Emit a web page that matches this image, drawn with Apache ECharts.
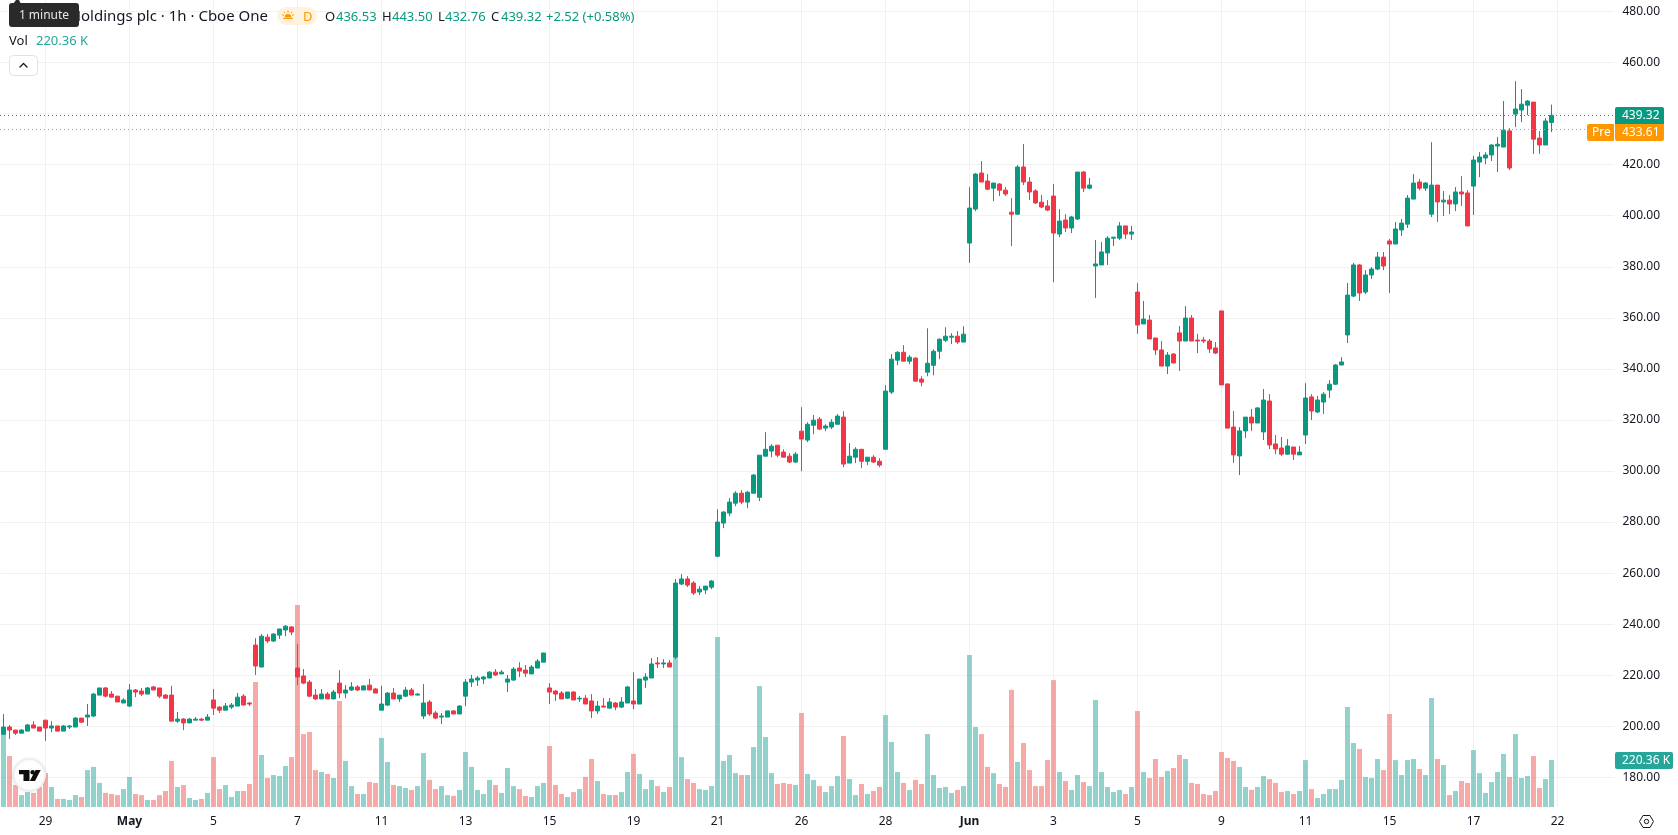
<!DOCTYPE html>
<html>
<head>
<meta charset="utf-8">
<style>html,body{margin:0;padding:0;background:#fff}#chart{width:1678px;height:835px}</style>
<script src="https://cdn.jsdelivr.net/npm/echarts@6/dist/echarts.min.js"></script>
</head>
<body>
<div id="chart"></div>
<script>
// Hourly bars, oldest first
const opens = [
196.9,199.7,198.5,197.3,198.1,200.5,199.7,202.4,199.3,200.1,
198.1,199.7,199.7,203.2,203.6,204.0,212.2,215.0,212.6,211.8,
209.1,207.9,214.2,213.8,212.6,215.4,215.0,212.2,212.2,202.0,
202.8,201.3,202.4,202.8,202.4,210.3,207.5,206.3,207.5,207.9,
211.8,209.1,231.8,223.2,234.9,233.4,235.7,237.7,238.9,222.8,
219.7,217.3,212.2,210.7,212.6,210.7,216.9,213.0,214.2,215.4,
214.2,216.1,214.6,206.3,208.3,213.0,210.7,211.8,214.2,212.2,
204.0,209.5,205.2,203.6,203.6,206.0,204.8,211.8,217.3,218.1,
218.5,218.9,221.2,220.5,217.3,218.1,222.8,222.0,220.5,222.8,
225.1,215.0,213.8,213.0,211.0,213.4,210.7,211.0,209.9,206.0,
207.9,207.1,209.1,207.5,209.1,209.9,208.7,218.1,218.9,224.8,
224.4,224.8,227.1,255.7,257.7,256.1,252.6,253.4,254.5,266.6,
279.6,283.5,287.4,291.3,287.8,291.3,289.7,305.8,307.8,310.1,
307.4,305.8,303.5,315.6,312.1,317.9,320.3,316.8,317.2,318.3,
321.1,303.1,305.4,308.5,303.8,305.4,303.8,308.5,330.9,343.4,
346.5,343.0,344.2,336.0,338.7,341.4,346.9,351.2,352.4,352.8,
350.5,389.3,402.6,416.7,413.6,410.8,412.4,410.0,401.4,400.6,
419.1,413.2,409.7,405.3,403.8,407.7,392.8,398.3,395.2,398.7,
417.1,410.8,380.3,380.7,385.4,391.2,391.2,396.0,392.8,370.1,
357.6,359.1,352.1,347.4,341.1,345.8,354.1,350.9,359.9,351.3,
351.3,350.9,348.2,362.7,334.1,317.2,305.9,315.7,321.1,318.8,
315.3,327.4,310.6,309.0,306.6,309.4,306.3,314.1,329.0,323.1,
327.0,331.7,334.0,341.5,353.3,368.5,380.7,370.1,376.8,379.1,
383.8,390.1,388.9,394.4,396.7,406.5,413.2,410.8,400.6,412.0,
405.4,406.1,404.6,409.3,408.9,411.6,421.0,422.6,423.8,427.3,
426.9,433.2,439.8,441.4,443.3,444.5,430.4,427.7,436.53];

const closes = [
199.7,198.5,197.3,198.5,200.5,199.3,198.1,199.3,200.1,198.1,
200.1,200.1,203.2,201.6,204.4,212.6,215.0,211.8,211.4,209.5,
210.3,214.2,213.4,212.6,215.0,214.2,211.8,211.0,202.0,202.8,
201.3,202.8,202.8,202.4,203.6,207.1,206.3,207.9,208.3,211.4,
208.3,208.7,223.6,235.3,233.4,236.1,238.1,239.2,236.9,219.3,
216.9,211.8,210.7,212.6,210.7,213.4,213.0,214.2,215.4,214.2,
215.8,214.2,213.0,208.7,213.0,210.7,212.2,214.2,212.2,212.6,
209.1,204.8,203.2,204.0,206.0,204.8,207.9,217.3,218.5,218.9,
219.3,221.2,220.1,221.2,218.5,222.4,221.6,220.8,223.2,225.5,
228.7,213.4,212.6,210.7,213.4,210.3,211.0,208.7,206.0,207.9,
207.5,209.5,207.5,209.5,215.4,208.7,218.5,219.3,224.4,224.4,
224.8,223.2,256.1,257.7,255.3,252.2,253.7,254.9,256.9,280.0,
283.9,287.8,291.3,287.8,291.7,298.4,306.2,308.5,309.7,306.2,
305.4,303.5,306.6,312.5,318.3,319.9,316.4,317.6,319.1,321.5,
302.7,305.8,308.5,303.8,305.4,303.5,302.3,331.3,343.8,346.5,
343.0,344.6,335.2,334.8,342.2,346.9,351.6,352.8,352.8,350.5,
353.6,403.0,416.3,413.2,410.4,412.8,410.0,408.5,400.6,419.1,
413.2,409.3,405.0,403.4,402.2,393.2,397.9,395.2,399.5,417.1,
410.8,412.0,381.1,385.8,391.2,391.6,396.0,392.8,393.6,357.2,
359.5,351.7,347.4,341.1,345.4,342.3,350.9,359.9,350.9,350.9,
350.9,347.8,346.2,333.7,316.8,306.3,315.7,321.1,318.8,324.7,
327.8,310.2,308.6,306.6,309.8,306.6,307.4,328.6,323.5,327.8,
330.1,334.0,341.5,342.7,368.9,380.7,369.7,376.8,379.1,383.8,
380.3,388.9,394.8,397.1,406.9,412.8,410.8,412.8,412.0,405.4,
406.1,404.6,409.3,408.5,396.0,421.8,423.0,423.8,427.7,428.0,
433.5,418.7,441.8,443.7,444.9,430.0,427.7,437.1,439.32];

const highs = [
204.8,200.5,198.5,198.9,200.9,202.0,199.7,202.4,202.0,200.1,
200.5,200.5,203.6,203.2,208.7,213.0,215.0,215.4,213.8,211.8,
211.0,216.5,214.6,215.0,215.4,215.8,215.0,212.6,215.8,205.6,
203.2,203.2,203.6,203.2,204.8,214.6,207.9,209.1,209.1,213.0,
212.6,209.5,234.5,236.1,236.1,236.5,238.1,239.6,239.2,232.2,
222.4,218.1,214.6,214.6,213.4,214.2,222.0,216.1,217.3,216.1,
216.1,218.5,215.0,215.8,213.4,215.0,212.2,215.4,215.0,213.0,
216.5,210.3,206.0,205.2,206.0,206.3,208.3,218.5,220.1,219.7,
219.7,221.6,222.4,222.0,220.1,223.2,225.1,224.0,224.0,226.3,
228.7,216.9,214.2,213.8,213.4,213.8,211.8,212.2,212.6,209.9,
211.0,211.0,209.5,211.4,215.8,221.2,218.5,220.8,226.7,227.1,
226.3,225.9,257.7,259.6,258.8,256.9,254.9,254.9,257.3,285.0,
284.3,289.4,292.1,292.5,292.1,298.8,306.2,315.2,310.5,310.1,
308.5,307.0,307.4,325.0,319.1,321.9,321.1,318.3,320.3,322.3,
323.4,310.9,309.3,308.5,305.4,306.2,305.0,333.6,345.8,346.9,
349.3,345.4,344.6,337.1,355.9,347.7,352.0,356.3,354.0,354.8,
356.7,411.2,416.7,421.4,416.3,412.8,412.8,411.2,406.9,419.8,
428.1,415.1,410.4,408.1,406.1,412.4,402.6,400.6,399.9,417.1,
417.5,414.8,390.5,389.7,392.0,391.6,397.5,396.0,396.0,373.6,
366.6,361.1,352.1,350.9,346.6,346.2,356.8,364.6,361.1,353.7,
352.5,351.7,350.5,362.7,334.1,323.5,317.2,321.1,324.3,325.0,
332.1,330.1,314.1,313.3,312.5,309.4,309.8,334.4,330.1,329.4,
330.9,335.6,341.9,344.6,373.6,381.5,381.1,378.7,379.9,385.8,
385.8,390.9,397.5,398.7,408.1,416.3,414.4,413.2,428.8,412.0,
409.7,408.1,411.2,415.5,410.0,423.4,424.9,424.9,428.0,430.8,
444.9,434.3,452.7,449.6,445.3,444.5,433.2,438.3,443.5];

const lows = [
196.6,195.0,196.6,197.3,198.1,199.3,198.1,194.3,197.7,198.1,
198.1,198.9,199.7,201.3,200.1,203.6,212.2,211.4,211.4,209.5,
209.1,207.5,211.4,211.8,212.6,214.2,211.0,211.0,202.0,201.3,
198.5,201.3,202.4,202.0,202.4,204.4,205.2,206.3,206.7,207.9,
208.3,207.9,220.1,223.2,232.6,233.0,234.2,235.3,235.7,216.1,
216.5,211.4,210.3,210.7,210.7,210.7,211.0,211.0,213.8,213.8,
214.2,214.2,213.0,206.3,207.9,210.7,209.5,211.4,212.2,212.2,
202.8,204.0,202.8,200.9,203.6,204.8,204.8,207.9,215.4,215.8,
216.5,218.9,219.7,220.5,213.4,217.7,219.3,219.3,220.5,222.8,
225.1,208.7,209.9,210.7,210.7,210.3,209.5,208.7,203.2,204.8,
207.5,207.1,206.3,207.1,209.1,206.7,208.7,215.0,218.9,222.8,
222.8,223.2,226.3,255.3,254.5,251.4,251.4,251.8,253.7,266.2,
277.6,282.3,286.2,287.0,285.4,291.3,288.2,305.8,305.4,305.4,
305.4,303.1,303.1,299.9,311.3,314.4,316.0,315.6,316.4,318.3,
301.5,303.1,303.1,301.1,302.3,303.1,301.5,308.5,330.1,341.4,
343.0,341.8,335.2,333.2,337.1,337.5,343.8,350.5,349.7,349.7,
350.5,381.5,401.8,413.2,410.0,405.7,407.7,407.7,388.1,400.3,
412.0,406.1,404.6,403.0,401.8,374.0,391.6,393.6,393.2,398.3,
409.3,410.4,367.8,380.7,380.7,388.1,390.5,390.9,390.5,353.7,
357.6,351.7,345.4,341.1,338.0,342.3,339.2,350.9,350.9,346.2,
350.1,346.2,345.8,333.7,316.8,303.1,298.4,312.9,315.7,318.8,
312.1,308.6,306.6,305.9,306.3,304.3,306.3,310.6,320.0,322.7,
322.3,328.6,333.7,341.5,350.1,368.1,366.6,369.3,375.2,378.7,
378.7,369.7,388.9,392.0,395.2,406.5,410.0,409.7,399.5,397.5,
399.9,400.6,401.8,403.8,396.0,400.3,415.1,420.2,421.4,417.1,
426.9,417.9,434.7,436.7,439.4,424.2,424.2,427.7,432.76];

// Volume per bar, in thousands
const volumes = [
345,239,103,56,70,66,94,159,94,38,
38,33,56,47,173,188,113,66,61,56,
84,141,61,56,33,33,56,75,216,94,
103,42,33,38,66,234,84,103,47,75,
75,108,586,244,136,150,145,192,234,947,
342,352,173,164,155,136,497,216,98,61,
61,117,113,324,211,103,98,89,80,98,
253,127,84,98,56,52,80,258,188,80,
61,127,103,66,183,98,84,52,47,98,
113,286,103,61,47,70,84,141,225,122,
61,56,56,70,164,249,155,84,127,98,
70,94,703,234,131,113,84,80,98,797,
216,244,159,150,150,281,567,328,159,108,
113,108,103,441,155,127,98,70,98,145,
333,131,56,108,61,75,94,431,305,164,
113,80,127,108,342,150,89,94,66,80,
98,713,375,342,188,159,108,94,549,211,
300,173,98,98,220,595,164,122,80,150,
117,98,502,164,94,70,80,61,94,450,
164,136,225,141,169,183,244,225,113,108,
61,56,75,258,230,216,188,94,80,94,
145,131,113,70,75,61,75,220,84,42,
61,84,84,127,469,300,272,141,136,225,
173,436,220,150,220,225,178,150,511,225,
197,56,75,122,113,267,159,66,117,164,
249,141,342,136,145,239,89,131,220.36];

const tickLabels = ['29','May','5','7','11','13','15','19','21','26','28','Jun','3','5','9','11','15','17','22'];
const monthLabels = ['May','Jun'];
const firstTickBar = 7;
const barsPerTick = 14;
const slotCount = 269;
const prePrice = 433.61;

const UP = '#089981', DOWN = '#f23645', TEAL = '#26a69a', AMBER = '#ff9800', INK = '#131722', GRID = '#f0f1f3';
const FONT = '"Noto Sans"';

const slots = new Array(slotCount).fill('');
tickLabels.forEach((t, k) => { slots[firstTickBar + k * barsPerTick] = t; });
const hasLabel = (i, v) => v !== '';
const candles = opens.map((o, i) => [o, closes[i], lows[i], highs[i]]);
const last = opens.length - 1;

const chart = echarts.init(document.getElementById('chart'), null, {renderer: 'canvas'});
chart.setOption({
  animation: false,
  backgroundColor: '#ffffff',
  grid: [
    {left: 0.5, width: 1614, top: -39.56, height: 867.92, outerBoundsMode: 'none'},
    {left: 0.5, width: 1614, top: 0, height: 807, outerBoundsMode: 'none'}
  ],
  xAxis: [
    {type: 'category', gridIndex: 0, data: slots, show: false, splitLine: {show: false}},
    {type: 'category', gridIndex: 1, data: slots,
     axisLine: {show: false},
     axisTick: {show: false, alignWithLabel: true, interval: hasLabel},
     splitLine: {show: true, alignWithLabel: true, interval: hasLabel, lineStyle: {color: GRID, width: 1}},
     axisLabel: {interval: hasLabel, margin: 9, color: INK, fontFamily: FONT, fontSize: 12,
       formatter: v => monthLabels.includes(v) ? '{m|' + v + '}' : v,
       rich: {m: {fontWeight: 'bold', color: INK, fontFamily: FONT, fontSize: 12}}}}
  ],
  yAxis: [
    {type: 'value', gridIndex: 0, position: 'right', min: 160, max: 500, interval: 20,
     axisLine: {show: false}, axisTick: {show: false},
     splitLine: {show: true, showMinLine: false, lineStyle: {color: GRID, width: 1}},
     axisLabel: {showMinLabel: false, margin: 8, padding: [2, 0, 0, 0], color: INK, fontFamily: FONT, fontSize: 12, formatter: v => v.toFixed(2)}},
    {type: 'value', gridIndex: 1, min: 0, max: 3784, show: false, splitLine: {show: false}}
  ],
  series: [
    {type: 'bar', xAxisIndex: 1, yAxisIndex: 1, z: 1, barWidth: 5, data: volumes, silent: true,
     itemStyle: {color: p => closes[p.dataIndex] >= opens[p.dataIndex] ? 'rgba(38,166,154,0.5)' : 'rgba(239,83,80,0.5)'}},
    {type: 'candlestick', xAxisIndex: 0, yAxisIndex: 0, z: 3, barWidth: 4, data: candles, silent: true,
     itemStyle: {color: UP, color0: DOWN, borderColor: UP, borderColor0: DOWN, borderWidth: 1}}
  ]
});

// Overlay chrome: legend text, price lines and tags, icons
const text = (x, y, s, fill, size, extra) => ({type: 'text', x, y, z: 50, silent: true,
  style: Object.assign({text: s, fill, font: size + 'px ' + FONT, textVerticalAlign: 'middle'}, extra || {})});
const box = (x, y, w, h, fill, r, extra) => ({type: 'rect', z: 40, silent: true, shape: {x, y, width: w, height: h, r},
  style: Object.assign({fill}, extra || {})});
const line = (x1, y1, x2, y2, stroke, w) => ({type: 'line', z: 50, silent: true, shape: {x1, y1, x2, y2},
  style: {stroke, lineWidth: w || 1, lineCap: 'round'}});
const dotted = (y, x2, stroke) => ({type: 'line', z: 20, silent: true, shape: {x1: 0, y1: y, x2, y2: y},
  style: {stroke, lineWidth: 1, lineDash: [1, 3]}});

const yClose = chart.convertToPixel({yAxisIndex: 0}, closes[last]);
const yPre = chart.convertToPixel({yAxisIndex: 0}, prePrice);
const yVol = chart.convertToPixel({yAxisIndex: 1}, volumes[last]);
const closeTop = Math.round(yClose - 8.5);
const preTop = closeTop + 17;
const volTop = Math.round(yVol - 8.5);
const fmt = v => v.toFixed(2);

chart.setOption({graphic: {elements: [
  // current price and pre-market levels
  dotted(Math.floor(yClose) + 0.5, 1615, UP),
  dotted(Math.floor(yPre) + 0.5, 1587, AMBER),
  // legend row
  text(268, 17, 'Holdings plc · 1h · Cboe One', INK, 15, {textAlign: 'right'}),
  box(277, 7, 40, 18, '#fff3e0', 9),
  {type: 'sector', z: 50, silent: true, shape: {cx: 288, cy: 17.5, r: 3.4, startAngle: Math.PI, endAngle: 2 * Math.PI}, style: {fill: AMBER}},
  line(283.5, 18.5, 292.5, 18.5, AMBER, 1),
  line(288, 11, 288, 12.3, AMBER, 1),
  line(282.5, 15, 283.6, 15, AMBER, 1),
  line(292.4, 15, 293.5, 15, AMBER, 1),
  line(284, 12, 284.8, 12.8, AMBER, 1),
  line(292, 12, 291.2, 12.8, AMBER, 1),
  text(303, 17, 'D', AMBER, 13),
  text(325, 17, 'O', INK, 13),
  text(336, 17, fmt(opens[last]), UP, 13),
  text(382, 17, 'H', INK, 13),
  text(392, 17, fmt(highs[last]), UP, 13),
  text(438, 17, 'L', INK, 13),
  text(445, 17, fmt(lows[last]), UP, 13),
  text(491, 17, 'C', INK, 13),
  text(501, 17, fmt(closes[last]), UP, 13),
  text(546, 17, '+2.52 (+0.58%)', UP, 13),
  text(9, 41, 'Vol', INK, 13),
  text(36, 41, fmt(volumes[last]) + ' K', TEAL, 13),
  // collapse button
  box(9.5, 55.5, 28, 20, '#ffffff', 4, {stroke: '#e0e3eb', lineWidth: 1}),
  line(20, 67, 23.5, 63.5, INK, 1.3),
  line(23.5, 63.5, 27, 67, INK, 1.3),
  // hover hint
  {type: 'polygon', z: 60, silent: true, shape: {points: [[13, 4], [16, 0], [19, 0], [21, 4]]}, style: {fill: '#2a2a2a'}},
  {type: 'rect', z: 60, silent: true, shape: {x: 9, y: 3, width: 70, height: 24, r: 3}, style: {fill: '#2a2a2a'}},
  {type: 'text', z: 61, silent: true, x: 44, y: 15.5, style: {text: '1 minute', fill: '#e6e6e6', font: '12px ' + FONT, textAlign: 'center', textVerticalAlign: 'middle'}},
  // last price and pre-market tags
  box(1615, closeTop, 49, 17, UP, [2, 2, 0, 0]),
  text(1622, closeTop + 9, fmt(closes[last]), '#ffffff', 12),
  box(1587, preTop, 27, 17, AMBER, [2, 0, 0, 2]),
  text(1592, preTop + 9, 'Pre', '#ffffff', 12),
  box(1615, preTop, 49, 17, AMBER, [0, 0, 2, 2]),
  text(1622, preTop + 9, fmt(prePrice), '#ffffff', 12),
  // volume tag
  box(1615, volTop, 58, 17, TEAL, 2),
  text(1622, volTop + 9, fmt(volumes[last]) + ' K', '#ffffff', 12),
  // settings glyph
  {type: 'polygon', z: 50, silent: true,
   shape: {points: [[1639.5, 821.5], [1643, 815.5], [1650, 815.5], [1653.5, 821.5], [1650, 827.5], [1643, 827.5]]},
   style: {fill: 'none', stroke: INK, lineWidth: 1}},
  {type: 'circle', z: 50, silent: true, shape: {cx: 1646.5, cy: 821.5, r: 2.2}, style: {fill: 'none', stroke: INK, lineWidth: 1}},
  // watermark badge
  {type: 'circle', z: 30, silent: true, shape: {cx: 29.3, cy: 775, r: 16},
   style: {fill: '#ffffff', stroke: '#ececec', lineWidth: 1.5, shadowBlur: 3, shadowColor: 'rgba(0,0,0,0.08)'}},
  {type: 'polygon', z: 31, silent: true,
   shape: {points: [[19, 770], [29.5, 770], [29.5, 781], [23.5, 781], [23.5, 774.3], [19, 774.3]]}, style: {fill: '#0d0d0d'}},
  {type: 'circle', z: 31, silent: true, shape: {cx: 32.6, cy: 772.2, r: 2.2}, style: {fill: '#0d0d0d'}},
  {type: 'polygon', z: 31, silent: true,
   shape: {points: [[35.5, 770], [40.7, 770], [35, 781], [29.8, 781]]}, style: {fill: '#0d0d0d'}}
]}});
</script>
</body>
</html>
